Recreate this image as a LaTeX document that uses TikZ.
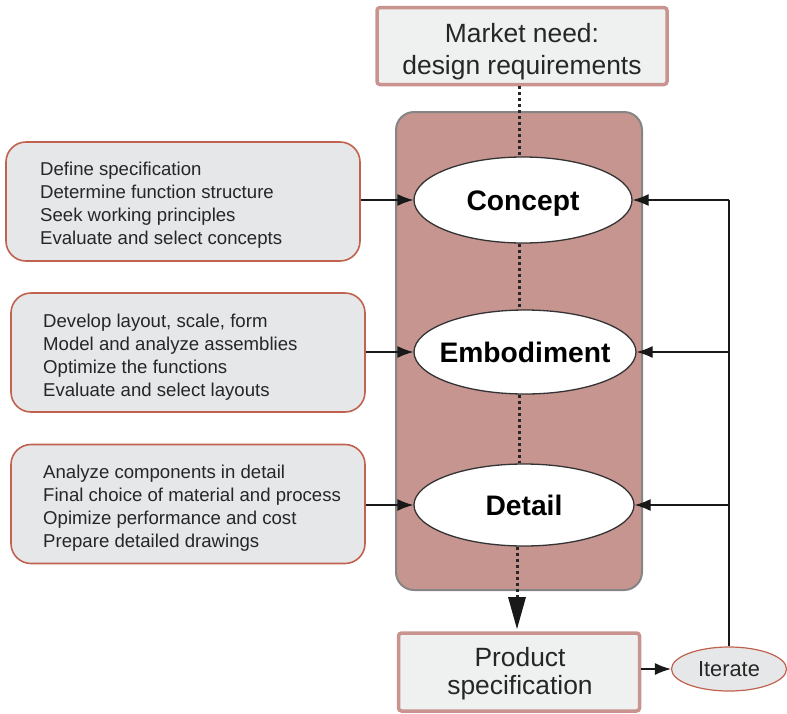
\documentclass[tikz,border=0pt]{standalone}
\usepackage{fontspec}
\setmainfont{Liberation Sans}
\usetikzlibrary{shapes.geometric,arrows.meta}
\definecolor{rosefill}{HTML}{C7958F}
\definecolor{framegray}{HTML}{858585}
\definecolor{boxfill}{HTML}{E6E7E8}
\definecolor{topfill}{HTML}{EFF0F0}
\definecolor{pinkedge}{HTML}{C99390}
\definecolor{rustedge}{HTML}{C0624F}
\begin{document}
\begin{tikzpicture}[x=1pt,y=-1pt,
  termbox/.style={draw=pinkedge,line width=3.5pt,fill=topfill,rounded corners=3pt,inner sep=0pt},
  termtext/.style={align=center,font=\fontsize{26.4}{32}\selectfont,text=black!85,inner sep=0pt},
  listbox/.style={draw=rustedge,line width=1.6pt,fill=boxfill,rounded corners=20pt,inner sep=0pt,minimum width=354pt,minimum height=119pt},
  listtext/.style={anchor=west,align=left,font=\fontsize{18.6}{23}\selectfont,text=black!85,inner sep=0pt},
  stage/.style={ellipse,draw=black!80,line width=1.3pt,fill=white,font=\bfseries\fontsize{28.2}{32}\selectfont,inner sep=0pt},
  arr/.style={-{Latex[length=16pt,width=12pt]},line width=1.3pt,black!90},
  dots/.style={line width=3pt,dash pattern=on 3pt off 3pt,black!85}
]
\useasboundingbox (0,0) rectangle (787,713);
% big frame
\node[draw=framegray,line width=2pt,fill=rosefill,rounded corners=18pt,minimum width=246pt,minimum height=478pt,inner sep=0pt] (frame) at (519,351) {};
% top box
\node[termbox,minimum width=290pt,minimum height=77pt] (need) at (522,46) {};
\node[termtext] (needtxt) at (522,52) {Market need:\\design requirements};
% stages
\node[stage,minimum width=218pt,minimum height=86pt] (concept) at (523,200) {\makebox[100pt]{\raisebox{-10.5pt}[0pt][0pt]{Concept}}};
\node[stage,minimum width=222pt,minimum height=84pt] (emb) at (525,352) {\makebox[100pt]{\raisebox{-10.5pt}[0pt][0pt]{Embodiment}}};
\node[stage,minimum width=220pt,minimum height=82pt] (detail) at (524,505) {\makebox[100pt]{\raisebox{-10.5pt}[0pt][0pt]{Detail}}};
% product spec
\node[termbox,minimum width=241pt,minimum height=78pt] (prod) at (519,672) {};
\node[termtext,font=\fontsize{26.4}{28}\selectfont] (prodtxt) at (520,674) {Product\\specification};
% iterate
\node[ellipse,draw=rustedge,line width=1.2pt,fill=boxfill,minimum width=115pt,minimum height=44pt,inner sep=0pt,font=\fontsize{21.8}{24}\selectfont,text=black!85] (it) at (729,669) {\makebox[40pt]{\raisebox{-7pt}[0pt][0pt]{Iterate}}};
% left boxes
\node[listbox] (b1) at (183,201.5) {};
\node[listtext] (t1) at (40,205.5) {Define specification\\Determine function structure\\Seek working principles\\Evaluate and select concepts};
\node[listbox] (b2) at (188,352.5) {};
\node[listtext] (t2) at (43,357.5) {Develop layout, scale, form\\Model and analyze assemblies\\Optimize the functions\\Evaluate and select layouts};
\node[listbox] (b3) at (188,504) {};
\node[listtext] (t3) at (43,508) {Analyze components in detail\\Final choice of material and process\\Opimize performance and cost\\Prepare detailed drawings};
% dotted links
\draw[dots] (need.south -| frame.center) -- (concept.north -| frame.center);
\draw[dots] (concept.south -| frame.center) -- (emb.north -| frame.center);
\draw[dots] (emb.south -| frame.center) -- (detail.north -| frame.center);
\coordinate (tri) at (517,597);
\draw[dots] (detail.south -| tri) -- (tri);
\fill[black!90] (508,597) -- (526,597) -- (517,629) -- cycle;
% input arrows
\draw[arr] (b1.east |- concept.west) -- (concept.west);
\draw[arr] (b2.east |- emb.west) -- (emb.west);
\draw[arr] (b3.east |- detail.west) -- (detail.west);
% iterate
\draw[arr] (prod.east |- it.west) -- (it.west);
\draw[line width=1.3pt,black!90] (it.north) -- (it.north |- concept.east);
\draw[arr] (it.north |- concept.east) -- (concept.east);
\draw[arr] (it.north |- emb.east) -- (emb.east);
\draw[arr] (it.north |- detail.east) -- (detail.east);
\end{tikzpicture}
\end{document}
